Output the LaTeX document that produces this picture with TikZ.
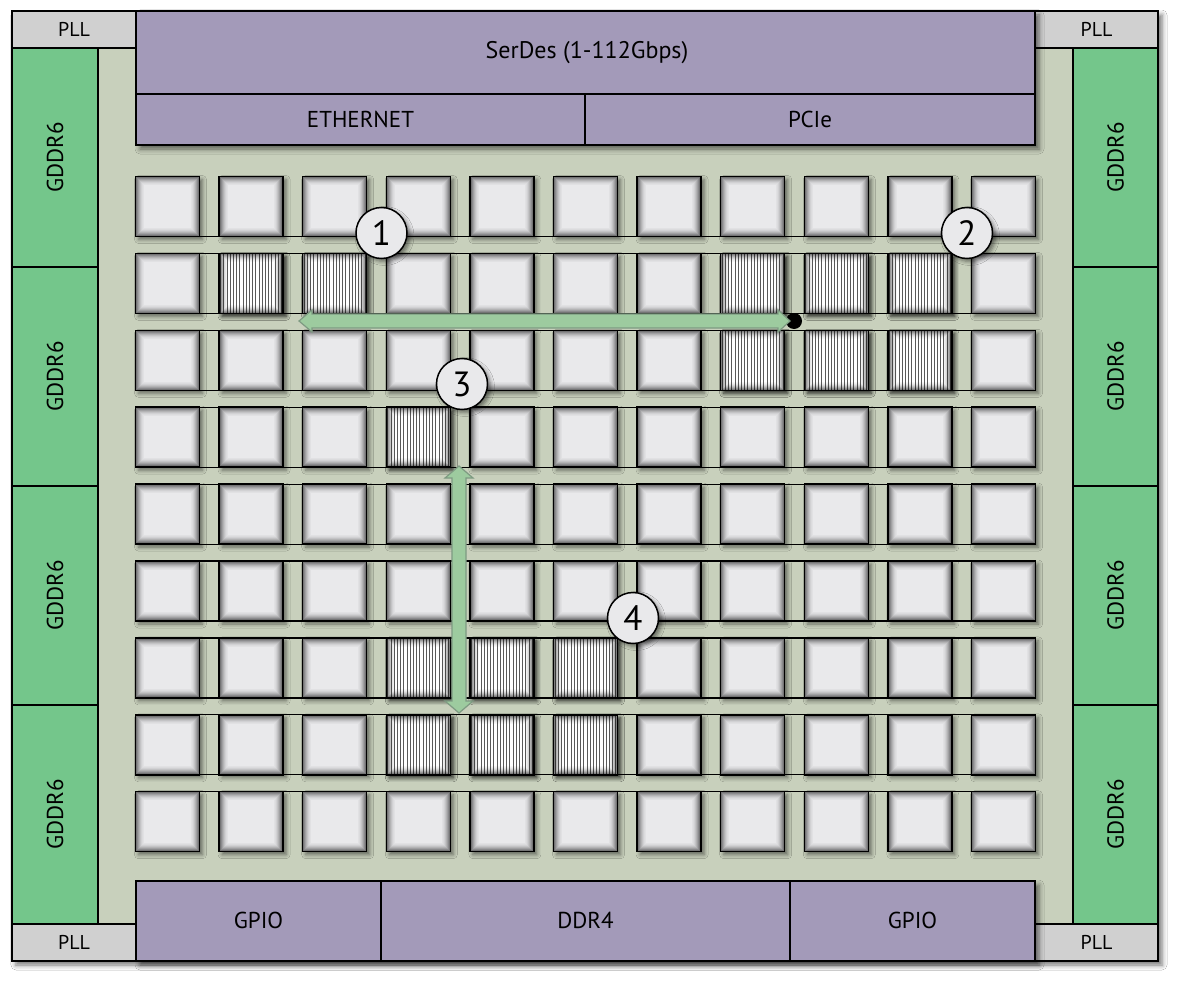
\documentclass[tikz,border=0pt]{standalone}
\usepackage{fontspec}
\setmainfont{PT Sans}
\usetikzlibrary{shadows.blur,calc}
\definecolor{bgc}{HTML}{C8D0BC}
\definecolor{pur}{HTML}{A39AB9}
\definecolor{grn}{HTML}{74C68B}
\definecolor{pllc}{HTML}{D0D0D0}
\definecolor{tilec}{HTML}{E9E9EB}
\definecolor{arrf}{HTML}{9DCB9F}
\definecolor{arrd}{HTML}{7E9A82}
\tikzset{
  edge/.style={line width=1.5pt, draw=black},
  shad/.style={blur shadow={shadow xshift=4pt, shadow yshift=-4pt, shadow blur radius=5pt, shadow opacity=55}},
  tshad/.style={blur shadow={shadow xshift=3pt, shadow yshift=-3pt, shadow blur radius=4pt, shadow opacity=50}},
  lbl/.style={font=\fontsize{23}{23}\selectfont, inner sep=0pt},
  plllbl/.style={font=\fontsize{20}{20}\selectfont, inner sep=0pt},
  numc/.style={circle, edge, fill=tilec, minimum size=51pt, inner sep=0pt, font=\fontsize{35}{35}\selectfont, tshad},
  arrowshape/.style={fill=arrf, draw=arrd, line width=1.2pt, line join=miter},
  innershade/.pic={
    \foreach \k/\o in {0/0.50,1/0.40,2/0.31,3/0.23,4/0.16,5/0.10,6/0.06,7/0.03} {
      \draw[black, opacity=\o, line width=1.05pt] ({1.25+\k},{1.25+\k}) rectangle ({62.75-\k},{58.75-\k});
    }
  },
  plaintile/.pic={
    \fill[tilec, tshad] (0,0) rectangle (64,60);
    \pic {innershade};
    \draw[edge] (0,0) rectangle (64,60);
  },
  hatchtile/.pic={
    \fill[white, tshad] (0,0) rectangle (64,60);
    \foreach \k in {0,...,19} {\draw[black!65, line width=1.1pt] ({1.6+3.2*\k},0) -- ({1.6+3.2*\k},60);}
    \pic {innershade};
    \draw[edge] (0,0) rectangle (64,60);
  }
}
\begin{document}
\begin{tikzpicture}[x=1pt,y=-1pt]
\useasboundingbox (0,0) rectangle (1188,992);
\fill[white] (0,0) rectangle (1188,992);
% chip body
\draw[edge, fill=bgc, shad] (12,11) rectangle (1158,961);
% GDDR6 columns
\foreach \y/\n in {48/1,267/2,486/3,705/4} {
  \draw[edge, fill=grn] (12,\y) rectangle (98,\y+219);
  \node[lbl, rotate=90] (gl\n) at (55,\y+109.5) {GDDR6};
  \draw[edge, fill=grn] (1073,\y) rectangle (1158,\y+219);
  \node[lbl, rotate=90] (gr\n) at (1115.5,\y+109.5) {GDDR6};
}
% PLL blocks
\draw[edge, fill=pllc] (12,11) rectangle (136,48);
\draw[edge, fill=pllc] (1035,11) rectangle (1158,48);
\draw[edge, fill=pllc] (12,924) rectangle (136,961);
\draw[edge, fill=pllc] (1035,924) rectangle (1158,961);
\node[plllbl] (pll1) at (74,29.5) {PLL};
\node[plllbl] (pll2) at (1096.5,29.5) {PLL};
\node[plllbl] (pll3) at (74,942.5) {PLL};
\node[plllbl] (pll4) at (1096.5,942.5) {PLL};
% top I/O
\draw[edge, fill=pur, shad] (136,11) rectangle (1035,145);
\draw[edge] (136,94) -- (1035,94);
\draw[edge] (585,94) -- (585,145);
\node[lbl, font=\fontsize{24}{24}\selectfont] (serdes) at (587,53) {SerDes (1-112Gbps)};
\node[lbl] (eth) at (360.5,119) {ETHERNET};
\node[lbl] (pcie) at (810,119) {PCIe};
% bottom I/O
\draw[edge, fill=pur, shad] (136,881) rectangle (1035,961);
\draw[edge] (381,881) -- (381,961);
\draw[edge] (790,881) -- (790,961);
\node[lbl] (gpio1) at (258.5,920) {GPIO};
\node[lbl] (ddr4) at (585.5,920) {DDR4};
\node[lbl] (gpio2) at (912.5,920) {GPIO};
% channel lines
\foreach \j in {0,...,7} {
  \draw[line width=1.2pt] (135.5,{176.5+76.9*\j+60}) -- (1035.5,{176.5+76.9*\j+60});
  \draw[line width=1.2pt] (135.5,{176.5+76.9*(\j+1)}) -- (1035.5,{176.5+76.9*(\j+1)});
}
% tiles
\foreach \i in {0,...,10} {
  \foreach \j in {0,...,8} {
    \pic at ({135.5+83.6*\i},{176.5+76.9*\j}) {plaintile};
  }
}
% hatched tiles
\foreach \i/\j in {1/1,2/1,7/1,8/1,9/1,7/2,8/2,9/2,3/3,3/6,4/6,5/6,3/7,4/7,5/7} {
  \pic at ({135.5+83.6*\i},{176.5+76.9*\j}) {hatchtile};
}
% marker dot
\node[circle, fill=black, minimum size=16pt, inner sep=0pt] (dot) at (794,321) {};
% horizontal arrow
\coordinate (hl) at (299,321);
\coordinate (hr) at (790,321);
\draw[arrowshape] (hl) -- ($(hl)+(13,-11)$) -- ($(hl)+(13,-7)$) -- ($(hr)+(-12,-7)$) -- ($(hr)+(-12,-11)$) -- (hr)
  -- ($(hr)+(-12,11)$) -- ($(hr)+(-12,7)$) -- ($(hl)+(13,7)$) -- ($(hl)+(13,11)$) -- cycle;
% vertical arrow
\coordinate (vt) at (459,466);
\coordinate (vb) at (459,713);
\draw[arrowshape] (vt) -- ($(vt)+(14,12)$) -- ($(vt)+(7,12)$) -- ($(vb)+(7,-12)$) -- ($(vb)+(14,-12)$) -- (vb)
  -- ($(vb)+(-14,-12)$) -- ($(vb)+(-7,-12)$) -- ($(vt)+(-7,12)$) -- ($(vt)+(-14,12)$) -- cycle;
% numbered circles
\node[numc] (n1) at (381.5,233) {1};
\node[numc] (n2) at (967,233) {2};
\node[numc] (n3) at (462,384) {3};
\node[numc] (n4) at (633,618) {4};
\end{tikzpicture}
\end{document}
